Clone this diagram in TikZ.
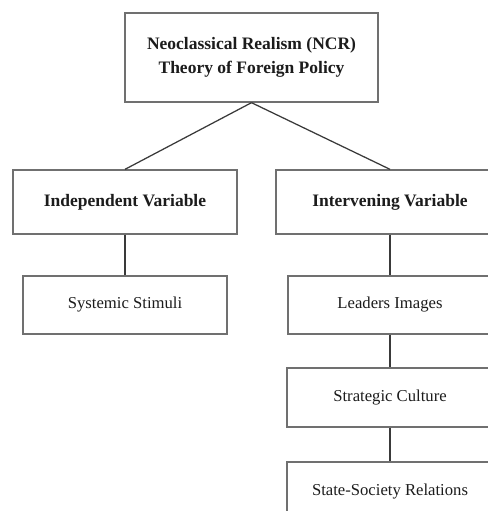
\documentclass[tikz,border=0pt]{standalone}
\usepackage{fontspec}
\setmainfont{Liberation Serif}
\usetikzlibrary{positioning}
\definecolor{NCRInk}{HTML}{1C1C1C}
\definecolor{NCRFrame}{HTML}{707070}
\definecolor{NCRLink}{HTML}{3A3A3A}

\begin{document}
\begin{tikzpicture}[
      x=0.6pt,y=-0.6pt,
      link/.style={draw=NCRLink,line width=0.75pt},
      frame/.style={draw=NCRFrame,line width=0.8pt,fill=white,align=center,
        text=NCRInk,inner sep=0pt,font=\fontsize{10}{12}\selectfont},
      headbox/.style={frame,font=\fontsize{10.5}{14}\selectfont\bfseries}
    ]
    \clip (0,0) rectangle (488,511);
    \fill[white] (0,0) rectangle (488,511);

    \node[headbox,minimum width=151.8pt,minimum height=53.4pt] (ncr) at (251.5,57.5)
      {Neoclassical Realism (NCR)\\Theory of Foreign Policy};
    \node[headbox,minimum width=134.4pt,minimum height=38.4pt] (indep) at (125,202)
      {Independent Variable};
    \node[headbox,minimum width=136.8pt,minimum height=38.4pt] (interv) at (390,202)
      {Intervening Variable};

    \node[frame,minimum width=122.4pt,minimum height=34.8pt] (stimuli) at (125,305)
      {Systemic Stimuli};
    \node[frame,minimum width=122.4pt,minimum height=34.8pt] (leaders) at (390,305)
      {Leaders Images};
    \node[frame,minimum width=123.6pt,minimum height=35.4pt] (culture) at (390,397.5)
      {Strategic Culture};
    \node[frame,minimum width=123.6pt,minimum height=35.4pt] (society) at (390,491.5)
      {State-Society Relations};

    \draw[link] (ncr.south) -- (indep.north);
    \draw[link] (ncr.south) -- (interv.north);
    \draw[link] (indep) -- (stimuli);
    \draw[link] (interv) -- (leaders);
    \draw[link] (leaders) -- (culture);
    \draw[link] (culture) -- (society);
  \end{tikzpicture}
\end{document}
